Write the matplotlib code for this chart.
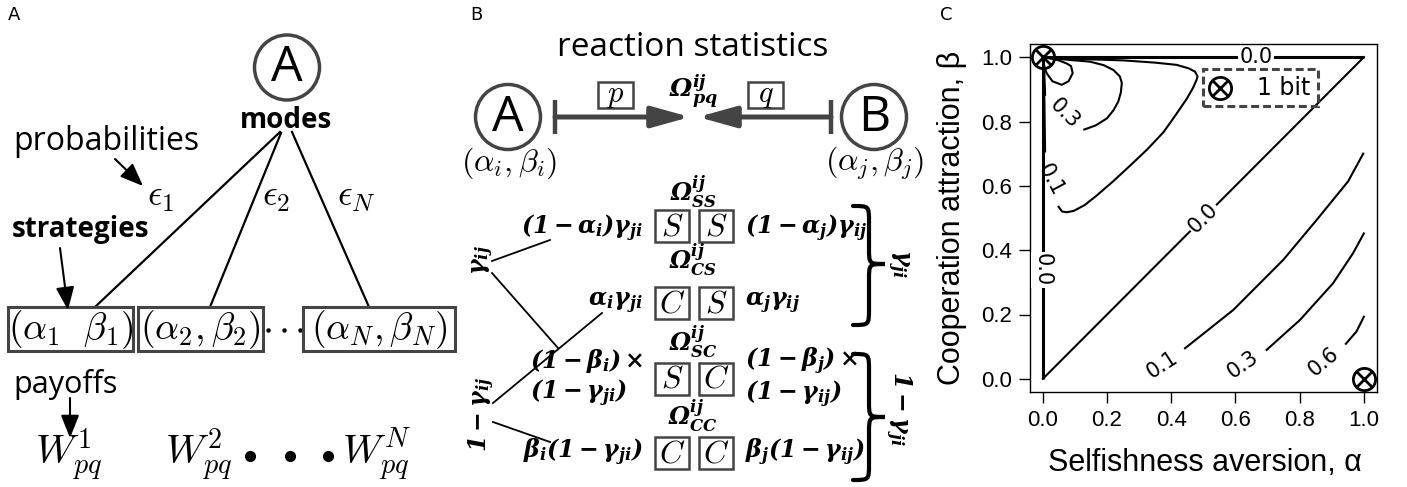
import matplotlib
matplotlib.use('Agg')
import matplotlib.pyplot as plt
from matplotlib.patches import Circle, Rectangle, FancyArrowPatch, PathPatch
from matplotlib.path import Path

plt.rcParams['mathtext.fontset'] = 'cm'
plt.rcParams['mathtext.rm'] = 'DejaVu Serif'
plt.rcParams['mathtext.it'] = 'DejaVu Serif:italic'
plt.rcParams['mathtext.bf'] = 'DejaVu Serif:italic:bold'

# ---------------- data: panel A ----------------
strategy_labels = [r'$(\alpha_1\ \ \beta_1)$', r'$(\alpha_2,\beta_2)$', r'$(\alpha_N,\beta_N)$']
prob_labels = [r'$\epsilon_1$', r'$\epsilon_2$', r'$\epsilon_N$']
payoff_labels = [r'$W^1_{pq}$', r'$W^2_{pq}$', r'$W^N_{pq}$']

# ---------------- data: panel B ----------------
outcome_labels = [r'$\mathbf{\Omega^{ij}_{SS}}$', r'$\mathbf{\Omega^{ij}_{CS}}$',
                  r'$\mathbf{\Omega^{ij}_{SC}}$', r'$\mathbf{\Omega^{ij}_{CC}}$']
outcome_boxes = [('S', 'S'), ('C', 'S'), ('S', 'C'), ('C', 'C')]
left_probs = [r'$\mathbf{(1-\alpha_i)\gamma_{ji}}$', r'$\mathbf{\alpha_i\gamma_{ji}}$',
              r'$\mathbf{(1-\beta_i)\times}$' + '\n' + r'$\mathbf{(1-\gamma_{ji})}$',
              r'$\mathbf{\beta_i(1-\gamma_{ji})}$']
right_probs = [r'$\mathbf{(1-\alpha_j)\gamma_{ij}}$', r'$\mathbf{\alpha_j\gamma_{ij}}$',
               r'$\mathbf{(1-\beta_j)\times}$' + '\n' + r'$\mathbf{(1-\gamma_{ij})}$',
               r'$\mathbf{\beta_j(1-\gamma_{ij})}$']

# ---------------- data: panel C (contour lines) ----------------
c00_top_a = [0.0, 1.0]; c00_top_b = [1.0, 1.0]
c00_diag_a = [0.0, 1.0]; c00_diag_b = [0.0, 1.0]
c00_left_a = [0.0, 0.0]; c00_left_b = [0.0, 1.0]
c01_up_a = [0.003, 0.03, 0.25, 0.35, 0.417, 0.455, 0.474, 0.482, 0.479, 0.468, 0.448, 0.415,
            0.376, 0.325, 0.272, 0.22, 0.168, 0.13, 0.096, 0.075, 0.06, 0.049]
c01_up_b = [0.998, 0.997, 0.99, 0.983, 0.976, 0.965, 0.955, 0.94, 0.93, 0.905, 0.87, 0.822,
            0.767, 0.713, 0.663, 0.615, 0.57, 0.54, 0.522, 0.518, 0.52, 0.535]
c01_stem_a = [0.002, 0.005, 0.007]; c01_stem_b = [1.0, 0.85, 0.707]
c03_up_a = [0.02, 0.1, 0.147, 0.19, 0.22, 0.24, 0.246, 0.243, 0.235, 0.22, 0.2, 0.165, 0.129]
c03_up_b = [0.997, 0.99, 0.986, 0.975, 0.96, 0.94, 0.92, 0.89, 0.862, 0.835, 0.81, 0.788, 0.775]
c03_stem_a = [0.002, 0.005, 0.007]; c03_stem_b = [1.0, 0.94, 0.883]
c06_loop_a = [0.0, 0.005, 0.012, 0.03, 0.059, 0.08, 0.093, 0.088, 0.075, 0.05, 0.02]
c06_loop_b = [0.995, 0.97, 0.95, 0.925, 0.914, 0.925, 0.95, 0.972, 0.98, 0.99, 0.997]
c01_low_a = [0.443, 0.593, 0.749, 0.853, 0.951, 0.998]
c01_low_b = [0.095, 0.214, 0.370, 0.494, 0.614, 0.70]
c03_low_a = [0.697, 0.801, 0.904, 0.966, 1.0]
c03_low_b = [0.09, 0.183, 0.297, 0.39, 0.452]
c06_low_a = [0.944, 0.977, 1.0]
c06_low_b = [0.109, 0.147, 0.193]
label_a = [0.664, 0.5, 0.0, 0.069, 0.023, 0.371, 0.624, 0.873]
label_b = [1.0, 0.5, 0.339, 0.826, 0.62, 0.0435, 0.0435, 0.054]
label_txt = ['0.0', '0.0', '0.0', '0.3', '0.1', '0.1', '0.3', '0.6']
label_rot = [0, 45, -90, -45, -62, 33, 35, 40]
label_gap = [True, True, True, False, False, False, False, False]
optima_a = [0.0, 1.0]; optima_b = [1.0, 0.0]
legend_a = [0.552]; legend_b = [0.904]
ticks = [0.0, 0.2, 0.4, 0.6, 0.8, 1.0]
tick_labels = ['0.0', '0.2', '0.4', '0.6', '0.8', '1.0']

SANS = 'Open Sans'
GRAY = '#444444'

fig = plt.figure(figsize=(14.07, 4.87), dpi=100)
ax = fig.add_axes([0, 0, 1, 1])
ax.set_xlim(0, 1407); ax.set_ylim(487, 0); ax.axis('off')

def arrow(p0, p1, lw=1.5, color='black', hl=0.7, hw=0.28, zorder=3):
    a = FancyArrowPatch(p0, p1, arrowstyle=f'-|>,head_length={hl},head_width={hw}',
                        lw=lw, color=color, mutation_scale=20, shrinkA=0, shrinkB=0, zorder=zorder)
    ax.add_patch(a)

def brace(x0, x1, y0, y1, ym, lw=3.0):
    xm = x0 + 0.5 * (x1 - x0)
    r = 0.5 * (x1 - x0)
    verts = [(x0, y0), (xm, y0), (xm, y0), (xm, y0 + r),
             (xm, ym - r),
             (xm, ym), (xm, ym), (x1, ym),
             (xm, ym), (xm, ym), (xm, ym + r),
             (xm, y1 - r),
             (xm, y1), (xm, y1), (x0, y1)]
    codes = [Path.MOVETO, Path.CURVE4, Path.CURVE4, Path.CURVE4, Path.LINETO,
             Path.CURVE4, Path.CURVE4, Path.CURVE4,
             Path.CURVE4, Path.CURVE4, Path.CURVE4, Path.LINETO,
             Path.CURVE4, Path.CURVE4, Path.CURVE4]
    ax.add_patch(PathPatch(Path(verts, codes), fc='none', ec='black', lw=lw, capstyle='round'))

# ---------------- Panel A ----------------
ax.text(8, 15, 'A', fontsize=13, family='DejaVu Sans', va='center', ha='left')
ax.add_patch(Circle((287, 67.5), 32.5, fc='white', ec=GRAY, lw=2.5))
ax.text(287, 68, 'A', fontsize=36, family=SANS, ha='center', va='center')
ax.text(286, 120, 'modes', fontsize=20, family=SANS, weight='bold', ha='center', va='center')
ax.text(13, 142, 'probabilities', fontsize=23, family=SANS, ha='left', va='center')
arrow((115, 159), (143, 186))
strat_x = [(8, 133), (138, 263), (303, 455)]
prob_xy = [(161, 197), (276, 197), (356, 197)]
line_ends = [((280, 132), (95, 307)), ((281, 133), (210, 307)), ((292, 132), (369, 307))]
for (x0, x1), lab, pxy, (p0, p1) in zip(strat_x, strategy_labels, prob_xy, line_ends):
    ax.plot([p0[0], p1[0]], [p0[1], p1[1]], color='black', lw=1.6, zorder=2)
    ax.add_patch(Rectangle((x0, 307), x1 - x0, 44, fc='white', ec=GRAY, lw=2.2, zorder=3))
    ax.text((x0 + x1) / 2, 330, lab, fontsize=27, ha='center', va='center', zorder=4)
for lab, (px, py) in zip(prob_labels, prob_xy):
    ax.text(px, py, lab, fontsize=26, ha='center', va='center')
ax.plot([268, 284, 300], [330, 330, 330], ls='none', marker='o', ms=2.2, color='black')
ax.text(12, 230, 'strategies', fontsize=20, family=SANS, weight='bold', ha='left', va='center')
arrow((60, 248), (68, 310))
ax.text(13, 385, 'payoffs', fontsize=22, family=SANS, ha='left', va='center')
arrow((70, 398), (70, 438))
for lab, px in zip(payoff_labels, [69, 199, 377]):
    ax.text(px, 455, lab, fontsize=29, ha='center', va='center')
ax.plot([250, 290, 328], [456, 456, 456], ls='none', marker='o', ms=7, color='black')

# ---------------- Panel B ----------------
ax.text(470, 15, 'B', fontsize=13, family='DejaVu Sans', va='center', ha='left')
ax.text(693, 47, 'reaction statistics', fontsize=24, family=SANS, ha='center', va='center')
for cx, letter, lab in [(508, 'A', r'$(\alpha_i,\beta_i)$'), (874, 'B', r'$(\alpha_j,\beta_j)$')]:
    ax.add_patch(Circle((cx, 117), 32.5, fc='white', ec=GRAY, lw=2.5))
    ax.text(cx, 118, letter, fontsize=36, family=SANS, ha='center', va='center')
    ax.text(cx + 1, 163, lab, fontsize=23, ha='center', va='center')
for xb, xt in [(555, 690), (831, 698)]:
    ax.plot([xb, xb], [100, 134], color=GRAY, lw=3.2, solid_capstyle='butt')
    arrow((xb, 117), (xt, 117), lw=3.6, color=GRAY, hl=1.15, hw=0.32)
for x0, s in [(598, 'p'), (748, 'q')]:
    ax.add_patch(Rectangle((x0, 82), 35, 26, fc='white', ec=GRAY, lw=1.8))
    ax.text(x0 + 17.5, 95, '$' + s + '$', fontsize=22, ha='center', va='center')
ax.text(693, 97, r'$\mathbf{\Omega^{ij}_{pq}}$', fontsize=18, ha='center', va='baseline',
        math_fontfamily='custom')

box_y = [225.5, 303, 378.5, 453]
omega_base = [202, 270, 351, 426]
text_y = [228, 303, 378, 452]
for k in range(4):
    ax.text(693, omega_base[k], outcome_labels[k], fontsize=17, ha='center', va='baseline',
            math_fontfamily='custom')
    for xb, letter in zip([655, 699], outcome_boxes[k]):
        ax.add_patch(Rectangle((xb, box_y[k] - 16), 34, 32, fc='white', ec=GRAY, lw=1.8))
        ax.text(xb + 17, box_y[k] + 1, '$' + letter + '$', fontsize=23, ha='center', va='center')
    if k == 2:
        ax.text(530, text_y[k], left_probs[k], fontsize=17, ha='left', va='center',
                math_fontfamily='custom', linespacing=1.1)
    else:
        ax.text(643, text_y[k], left_probs[k], fontsize=17, ha='right', va='center',
                math_fontfamily='custom')
    ax.text(745, text_y[k], right_probs[k], fontsize=17, ha='left', va='center',
            math_fontfamily='custom', linespacing=1.1)

for (x0, y0), (x1, y1) in [((492, 261), (550, 240)), ((492, 273), (558, 348)),
                           ((493, 403), (602, 313)), ((493, 422), (550, 442))]:
    ax.plot([x0, x1], [y0, y1], color='black', lw=1.3)
ax.text(483, 260, r'$\mathbf{\gamma_{ij}}$', fontsize=17, rotation=90, ha='center', va='center',
        math_fontfamily='custom')
ax.text(482, 414, r'$\mathbf{1-\gamma_{ij}}$', fontsize=17, rotation=90, ha='center', va='center',
        math_fontfamily='custom')
brace(853, 885, 206, 325, 264)
brace(853, 885, 354, 480, 417)
ax.text(898, 264, r'$\mathbf{\gamma_{ji}}$', fontsize=17, rotation=-90, ha='center', va='center',
        math_fontfamily='custom')
ax.text(898, 408, r'$\mathbf{1-\gamma_{ji}}$', fontsize=17, rotation=-90, ha='center', va='center',
        math_fontfamily='custom')

# ---------------- Panel C ----------------
ax.text(940, 15, 'C', fontsize=13, family='DejaVu Sans', va='center', ha='left')
axc = fig.add_axes([1030 / 1407, (487 - 391.7) / 487, 346.7 / 1407, 347.4 / 487])
axc.set_xlim(-0.04, 1.04); axc.set_ylim(-0.04, 1.04)
for sp in axc.spines.values():
    sp.set_linewidth(1.0)
axc.set_xticks(ticks); axc.set_xticklabels(tick_labels)
axc.set_yticks(ticks); axc.set_yticklabels(tick_labels)
axc.tick_params(direction='out', length=8, width=1, labelsize=16, pad=5)
for t in axc.get_xticklabels() + axc.get_yticklabels():
    t.set_family('Liberation Sans')

thick = [(c00_top_a, c00_top_b), (c00_left_a, c00_left_b)]
thin = [(c00_diag_a, c00_diag_b), (c01_up_a, c01_up_b), (c01_stem_a, c01_stem_b),
        (c03_up_a, c03_up_b), (c03_stem_a, c03_stem_b), (c06_loop_a, c06_loop_b),
        (c01_low_a, c01_low_b), (c03_low_a, c03_low_b), (c06_low_a, c06_low_b)]
for a, b in thick:
    axc.plot(a, b, color='black', lw=2.2, solid_capstyle='butt')
for a, b in thin:
    axc.plot(a, b, color='black', lw=1.5)
for a, b, t, r, g in zip(label_a, label_b, label_txt, label_rot, label_gap):
    kw = dict(bbox=dict(fc='white', ec='none', pad=1.0)) if g else {}
    axc.text(a, b, t, fontsize=15, family='DejaVu Sans', rotation=r, ha='center', va='center',
             rotation_mode='anchor', zorder=4, **kw)
axc.add_patch(Rectangle((0.5, 0.849), 0.358, 0.114, fc='none', ec=GRAY, lw=2.2,
                        ls=(0, (2.6, 1.3)), zorder=4))
axc.text(0.75, 0.904, '1 bit', fontsize=17, family='DejaVu Sans', ha='center', va='center', zorder=5)
for a, b in [(optima_a, optima_b), (legend_a, legend_b)]:
    axc.plot(a, b, ls='none', marker='o', ms=16, mfc='none', mec='black', mew=2, clip_on=False, zorder=6)
    axc.plot(a, b, ls='none', marker='x', ms=11, mec='black', mew=2, clip_on=False, zorder=6)

fig.text(1205 / 1407, 1 - 463 / 487, 'Selfishness aversion, α', fontsize=22,
         family='Liberation Sans', ha='center', va='center')
fig.text(952 / 1407, 1 - 218 / 487, 'Cooperation attraction, β', fontsize=22,
         family='Liberation Sans', ha='center', va='center', rotation=90)

fig.savefig('out.png', dpi=100)
